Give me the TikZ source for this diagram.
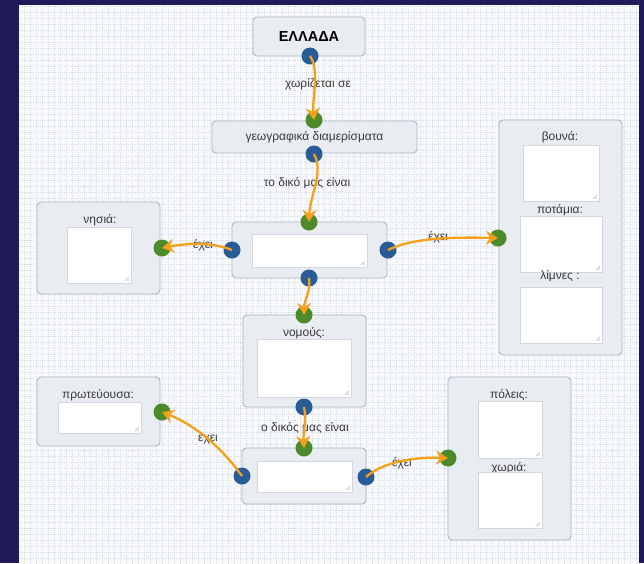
\documentclass[tikz,border=0pt]{standalone}
\usepackage{fontspec}
\setmainfont{Liberation Sans}
\usetikzlibrary{arrows.meta}
\definecolor{navy}{HTML}{1F1B5B}
\definecolor{panelbg}{HTML}{F8F9FB}
\definecolor{gridc}{HTML}{D6DBE3}
\definecolor{boxfill}{HTML}{E9ECF0}
\definecolor{boxline}{HTML}{AAB7C7}
\definecolor{fieldline}{HTML}{D3D7DD}
\definecolor{dotblue}{HTML}{285C97}
\definecolor{dotgreen}{HTML}{4C8A2B}
\definecolor{linkorange}{HTML}{F6A01A}
\definecolor{txt}{HTML}{3A3A3A}
\definecolor{gripc}{HTML}{B0B4BA}
\newcommand\gripmark[1]{%
  \draw[gripc, line width=0.5pt] ([xshift=-2pt,yshift=6pt]#1.south east) -- ([xshift=-6pt,yshift=2pt]#1.south east);
  \draw[gripc, line width=0.5pt] ([xshift=-2pt,yshift=3.5pt]#1.south east) -- ([xshift=-3.5pt,yshift=2pt]#1.south east);}
\begin{document}
\begin{tikzpicture}[x=1pt,y=-1pt,
  box/.style={draw=boxline, fill=boxfill, rounded corners=4pt, line width=0.9pt, inner sep=0pt, outer sep=0pt},
  field/.style={draw=fieldline, fill=white, line width=0.8pt, inner sep=0pt, outer sep=0pt},
  bdot/.style={circle, fill=dotblue, minimum size=17pt, inner sep=0pt},
  gdot/.style={circle, fill=dotgreen, minimum size=17pt, inner sep=0pt},
  link/.style={draw=linkorange, line width=2.3pt, -{Stealth[length=12pt,width=14pt,inset=4pt]}},
  lbl/.style={text=txt, font=\fontsize{12}{14}\selectfont, inner sep=1pt},
  ttl/.style={text=txt, font=\fontsize{12}{14}\selectfont, inner sep=1pt}]
\useasboundingbox (0,0) rectangle (644,563);
\fill[navy] (0,0) rectangle (644,563);
\fill[panelbg] (19,5) rectangle (639,563);
\begin{scope}
\clip (19,5) rectangle (639,563);
\draw[gridc, line width=0.5pt, step=6pt, dash pattern=on 1pt off 1.2pt] (18pt,-564pt) grid (641pt,-4pt);
\end{scope}

% boxes
\node[box, minimum width=112pt, minimum height=39pt] (greece) at (309,36.5) {};
\node[text=black, font=\bfseries\fontsize{14.5}{16}\selectfont] (greecet) at (309,37) {ΕΛΛΑΔΑ};
\node[box, minimum width=205pt, minimum height=32pt] (geo) at (314.5,137) {};
\node[ttl] (geot) at (314.5,137) {γεωγραφικά διαμερίσματα};

\node[box, minimum width=155pt, minimum height=56pt] (c1) at (309.5,250) {};
\node[field, minimum width=115pt, minimum height=33pt] (c1f) at (309.5,250.5) {};
\gripmark{c1f}

\node[box, minimum width=123pt, minimum height=92pt] (nisia) at (98.5,248) {};
\node[ttl] (nisiat) at (100,220) {νησιά:};
\node[field, minimum width=64pt, minimum height=56pt] (nisiaf) at (99,255) {};
\gripmark{nisiaf}

\node[box, minimum width=123pt, minimum height=235pt] (right) at (560.5,237.5) {};
\node[ttl] (vounat) at (560,137) {βουνά:};
\node[field, minimum width=76pt, minimum height=56pt] (vounaf) at (561,173) {};
\gripmark{vounaf}
\node[ttl] (potamiat) at (560,210) {ποτάμια:};
\node[field, minimum width=82pt, minimum height=56pt] (potamiaf) at (561,244) {};
\gripmark{potamiaf}
\node[ttl] (limnest) at (560,276) {λίμνες :};
\node[field, minimum width=82pt, minimum height=56pt] (limnesf) at (561,315) {};
\gripmark{limnesf}

\node[box, minimum width=123pt, minimum height=92pt] (nomous) at (304.5,361) {};
\node[ttl] (nomoust) at (304,333) {νομούς:};
\node[field, minimum width=94pt, minimum height=58pt] (nomousf) at (304,368) {};
\gripmark{nomousf}

\node[box, minimum width=123pt, minimum height=69pt] (prwt) at (98.5,411.5) {};
\node[ttl] (prwtt) at (98,395) {πρωτεύουσα:};
\node[field, minimum width=83pt, minimum height=31pt] (prwtf) at (99.5,417.5) {};
\gripmark{prwtf}

\node[box, minimum width=124pt, minimum height=56pt] (bottom) at (304,476) {};
\node[field, minimum width=95pt, minimum height=31pt] (bottomf) at (304.5,476.5) {};
\gripmark{bottomf}

\node[box, minimum width=123pt, minimum height=163pt] (poleis) at (509.5,458.5) {};
\node[ttl] (poleist) at (509,395) {πόλεις:};
\node[field, minimum width=64pt, minimum height=57pt] (poleisf) at (510,429.5) {};
\gripmark{poleisf}
\node[ttl] (xwriat) at (509,468) {χωριά:};
\node[field, minimum width=64pt, minimum height=56pt] (xwriaf) at (510,500) {};
\gripmark{xwriaf}

% connection dots
\node[bdot] (dA) at (310,56) {};
\node[gdot] (gB) at (314,120) {};
\node[bdot] (bB) at (314,154) {};
\node[gdot] (gC) at (309,222) {};
\node[bdot] (bCl) at (232,250) {};
\node[bdot] (bCr) at (388,250) {};
\node[bdot] (bCb) at (309,278) {};
\node[gdot] (gN) at (162,248) {};
\node[gdot] (gR) at (498,238) {};
\node[gdot] (gD) at (304,315) {};
\node[bdot] (bD) at (304,407) {};
\node[gdot] (gE) at (304,448) {};
\node[bdot] (bEl) at (242,476) {};
\node[bdot] (bEr) at (366,477) {};
\node[gdot] (gP) at (162,412) {};
\node[gdot] (gF) at (448,458) {};

% labels
\node[lbl] (l1) at (318,84) {χωρίζεται σε};
\node[lbl] (l2) at (307,183) {το δικό μας είναι};
\node[lbl] (l3) at (203,245) {έχει};
\node[lbl] (l4) at (438,237) {έχει};
\node[lbl] (l5) at (305,428) {ο δικός μας είναι};
\node[lbl] (l6) at (208,438) {έχει};
\node[lbl] (l7) at (402,463) {έχει};

% connectors
\draw[link] (dA.center) .. controls (320,70) and (312,100) .. (gB.center);
\draw[link] (bB.center) .. controls (324,172) and (310,195) .. (gC.center);
\draw[link] (bCl.center) .. controls (212,242) and (188,243) .. (gN.center);
\draw[link] (bCr.center) .. controls (412,238) and (450,237) .. (gR.center);
\draw[link] (bCb.center) .. controls (311,292) and (304,300) .. (gD.center);
\draw[link] (bD.center) .. controls (307,420) and (303,432) .. (gE.center);
\draw[link] (bEl.center) .. controls (222,448) and (195,425) .. (gP.center);
\draw[link] (bEr.center) .. controls (385,460) and (420,457) .. (gF.center);
\end{tikzpicture}
\end{document}
